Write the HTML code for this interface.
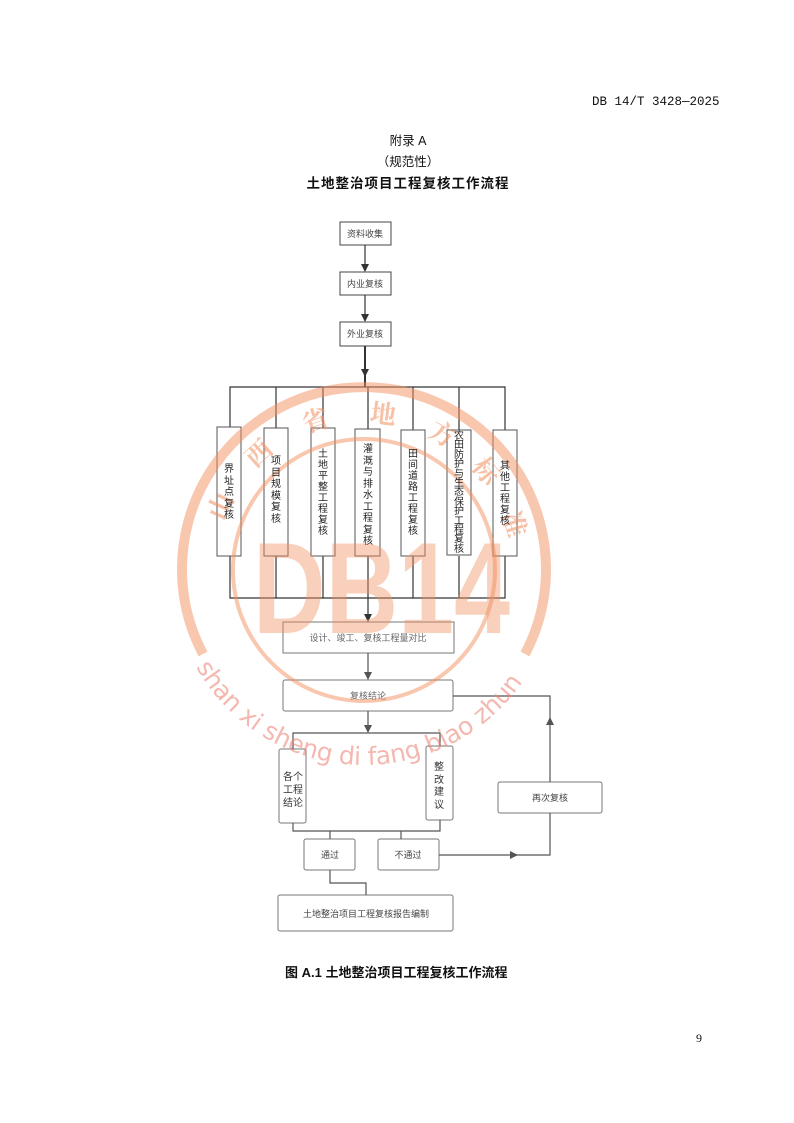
<!DOCTYPE html>
<html><head><meta charset="utf-8">
<style>
html,body{margin:0;padding:0;background:#fff}
body{width:794px;height:1123px;position:relative;overflow:hidden;font-family:"Liberation Sans","Noto Sans CJK SC",sans-serif}
.t{position:absolute;white-space:nowrap}
.v{position:absolute;width:14px;font-size:10px;text-align:center;color:#222;word-break:break-all;font-family:"Liberation Sans","Noto Sans CJK SC",sans-serif}
svg{position:absolute;left:0;top:0}
</style></head><body>
<div class="t" style="left:592px;top:95px;font-size:12.5px;font-family:'Liberation Mono','Noto Sans CJK SC',monospace;color:#111">DB 14/T 3428—2025</div>
<div class="t" style="left:0;width:816px;text-align:center;top:130px;font-size:12.5px;color:#111">附录 A</div>
<div class="t" style="left:0;width:816px;text-align:center;top:151px;font-size:12.5px;color:#111">（规范性）</div>
<div class="t" style="left:0;width:816px;text-align:center;top:172px;font-size:13.5px;font-weight:bold;color:#111;letter-spacing:1px">土地整治项目工程复核工作流程</div>
<div class="t" style="left:285px;top:962px;font-size:13px;font-weight:bold;color:#111">图 A.1 土地整治项目工程复核工作流程</div>
<div class="t" style="left:696px;top:1031px;font-size:12px;font-family:'Liberation Serif',serif;color:#111">9</div>

<svg width="794" height="1123" viewBox="0 0 794 1123">
<defs>
<marker id="a" markerWidth="8" markerHeight="8" refX="7" refY="4" orient="auto" markerUnits="userSpaceOnUse"><path d="M0,0 L8,4 L0,8 z" fill="#333"/></marker>
<marker id="g" markerWidth="8" markerHeight="8" refX="7" refY="4" orient="auto" markerUnits="userSpaceOnUse"><path d="M0,0 L8,4 L0,8 z" fill="#555"/></marker>
</defs>
<g fill="#fff" stroke="#444" stroke-width="1">
<rect x="340" y="222" width="51" height="23"/>
<rect x="340" y="272" width="51" height="23"/>
<rect x="340" y="322" width="51" height="24"/>
</g>
<g stroke="#333" stroke-width="1.2" fill="none">
<line x1="365" y1="245" x2="365" y2="271" marker-end="url(#a)"/>
<line x1="365" y1="295" x2="365" y2="321" marker-end="url(#a)"/>
<line x1="365" y1="346" x2="365" y2="387" stroke-width="2"/>
<line x1="365" y1="360" x2="365" y2="376" marker-end="url(#a)"/>
<polyline points="230,427 230,387 505,387 505,430"/>
<line x1="276" y1="387" x2="276" y2="428"/>
<line x1="323" y1="387" x2="323" y2="428"/>
<line x1="368" y1="387" x2="368" y2="429"/>
<line x1="413" y1="387" x2="413" y2="430"/>
<line x1="459" y1="387" x2="459" y2="430"/>
<polyline points="230,556 230,598 505,598 505,556"/>
<line x1="276" y1="556" x2="276" y2="598"/>
<line x1="323" y1="556" x2="323" y2="598"/>
<line x1="413" y1="556" x2="413" y2="598"/>
<line x1="459" y1="556" x2="459" y2="598"/>
<line x1="368" y1="556" x2="368" y2="621" marker-end="url(#a)"/>
</g>
<g fill="#fff" stroke="#555" stroke-width="1">
<rect x="217" y="427" width="24" height="129"/>
<rect x="264" y="428" width="24" height="128"/>
<rect x="311" y="428" width="24" height="128"/>
<rect x="355" y="429" width="25" height="127"/>
<rect x="401" y="430" width="24" height="126"/>
<rect x="447" y="430" width="24" height="125"/>
<rect x="493" y="430" width="24" height="126"/>
</g>
<g fill="#fff" stroke="#777" stroke-width="1">
<rect x="283" y="622" width="171" height="31"/>
<rect x="283" y="680" width="170" height="31" rx="2"/>
<rect x="279" y="749" width="27" height="74" rx="2"/>
<rect x="426" y="746" width="27" height="74" rx="2"/>
<rect x="304" y="839" width="51" height="31" rx="2"/>
<rect x="378" y="839" width="61" height="31" rx="2"/>
<rect x="498" y="782" width="104" height="31" rx="2"/>
<rect x="278" y="895" width="175" height="36" rx="2"/>
</g>
<g stroke="#555" stroke-width="1.2" fill="none">
<line x1="368" y1="653" x2="368" y2="679" marker-end="url(#g)"/>
<line x1="368" y1="711" x2="368" y2="732" marker-end="url(#g)"/>
<polyline points="293,749 293,733 440,733 440,746"/>
<polyline points="293,823 293,831 440,831 440,820"/>
<line x1="330" y1="831" x2="330" y2="839"/>
<line x1="401" y1="831" x2="401" y2="839"/>
<line x1="439" y1="855" x2="517" y2="855" marker-end="url(#g)"/>
<polyline points="515,855 550,855 550,813"/>
<line x1="550" y1="782" x2="550" y2="718" marker-end="url(#g)"/>
<polyline points="550,720 550,696 453,696"/>
<polyline points="330,870 330,883 366,883 366,895"/>
</g>
<g font-size="9" fill="#444" text-anchor="middle" font-family="Liberation Sans, Noto Sans CJK SC, sans-serif">
<text x="365" y="237">资料收集</text>
<text x="365" y="287">内业复核</text>
<text x="365" y="337">外业复核</text>
<text x="368" y="641" fill="#666">设计、竣工、复核工程量对比</text>
<text x="368" y="699" fill="#666">复核结论</text>
<text x="330" y="858">通过</text>
<text x="408" y="858">不通过</text>
<text x="550" y="801">再次复核</text>
<text x="366" y="917">土地整治项目工程复核报告编制</text>
</g>
<g font-size="10" fill="#333" text-anchor="middle" font-family="Liberation Sans, Noto Sans CJK SC, sans-serif">
<text x="293" y="780">各个</text>
<text x="293" y="793">工程</text>
<text x="293" y="806">结论</text>
</g>
<!-- watermark -->
<g opacity="0.5" fill="none" stroke="#f29060">
<path d="M203,654 A182 182 0 1 1 525,654" stroke-width="10"/>
<circle cx="364" cy="570" r="131" stroke-width="4"/>
</g>
<text x="253" y="633" font-family="Liberation Sans, sans-serif" font-weight="bold" font-size="130" textLength="257" lengthAdjust="spacingAndGlyphs" fill="#f29060" opacity="0.42">DB14</text>
<g fill="#f29060" opacity="0.55" font-size="26" font-weight="bold" font-family="Noto Serif CJK SC, serif" text-anchor="middle">
<text transform="translate(364,570) rotate(-66) translate(0,-148)">山</text>
<text transform="translate(364,570) rotate(-42) translate(0,-148)">西</text>
<text transform="translate(364,570) rotate(-18) translate(0,-148)">省</text>
<text transform="translate(364,570) rotate(7) translate(0,-148)">地</text>
<text transform="translate(364,570) rotate(30) translate(0,-148)">方</text>
<text transform="translate(364,570) rotate(51) translate(0,-148)">标</text>
<text transform="translate(364,570) rotate(73) translate(0,-148)">准</text>
</g>
<path id="bp" d="M196,667 A193 193 0 0 0 532,667" fill="none"/>
<text font-size="25" fill="#ec7f70" opacity="0.55" font-family="DejaVu Sans, sans-serif"><textPath href="#bp" textLength="390" lengthAdjust="spacing">shan xi sheng di fang biao zhun</textPath></text>
</svg>

<div class="v" style="left:222px;top:464px;line-height:11.5px">界址点复核</div>
<div class="v" style="left:269px;top:456px;line-height:11.6px">项目规模复核</div>
<div class="v" style="left:316px;top:449px;line-height:11px">土地平整工程复核</div>
<div class="v" style="left:361px;top:444px;line-height:11.5px">灌溉与排水工程复核</div>
<div class="v" style="left:406px;top:449px;line-height:11px">田间道路工程复核</div>
<div class="v" style="left:452px;top:432px;line-height:9.4px">农田防护与生态保护工程复核</div>
<div class="v" style="left:498px;top:461px;line-height:11px">其他工程复核</div>
<div class="v" style="left:432px;top:762px;line-height:12.5px;color:#333">整改建议</div>
</body></html>
